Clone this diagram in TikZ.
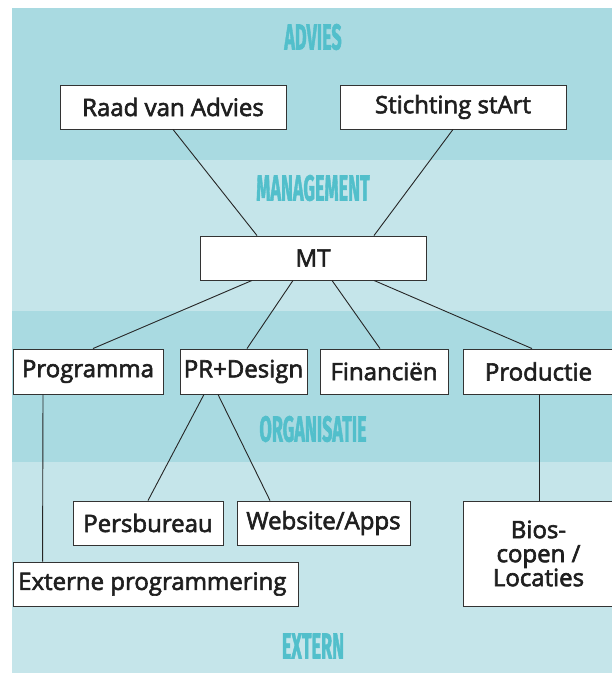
\documentclass[tikz,border=0pt]{standalone}
\usepackage{fontspec}
\setmainfont{Open Sans}
\newfontfamily\boxfont{Open Sans}[FakeBold=2.5]
\newfontfamily\headfont{Fira Sans}[FakeBold=2]
\usetikzlibrary{calc}
\definecolor{banddark}{HTML}{A9DAE1}
\definecolor{bandlight}{HTML}{C5E5EA}
\definecolor{bandtext}{HTML}{52BFCB}
\tikzset{basic box/.style={draw=black!80,fill=white,inner sep=0pt,line width=0.9pt}}
\tikzset{org box/.style={basic box,
                         align=center,
                         text=black!88,
                         font=\boxfont\fontsize{24}{24}\selectfont}}
\tikzset{band label/.style={text=bandtext,
                            inner sep=0pt,
                            xscale=0.5,
                            font=\headfont\bfseries\fontsize{36}{36}\selectfont}}
\tikzset{link/.style={draw=black!85,line width=0.9pt}}

\begin{document}
\begin{tikzpicture}[x=1pt,y=-1pt]

      \useasboundingbox (0,0) rectangle (612,673);

      % bands
      \foreach \t/\b/\c in {8/160/banddark,160/311/bandlight,311/462/banddark,462/673/bandlight}
      {
      \fill [\c] (12,\t) rectangle (612,\b);
      }

      \foreach \n/\y/\l in {advies/37/ADVIES,management/188/MANAGEMENT,organisatie/429/ORGANISATIE,extern/646/EXTERN}
      {
      \node [band label] (\n) at (313,\y) {\l};
      }

      % boxes
      \foreach \n/\x/\y/\w/\h/\l in
      {
      raad/173/107/226/44/Raad van Advies,
      stichting/453/107/226/44/Stichting stArt,
      mt/313/258/226/44/MT,
      prog/88/371.5/150/45/Programma,
      prd/243.5/371.5/127/45/PR+Design,
      fin/384/371.5/128/45/Financiën,
      prod/538.5/371.5/151/45/Productie,
      pers/148/523/150/44/Persbureau,
      web/323.5/523/173/44/{Website/Apps},
      ext/155.5/584/285/44/Externe programmering
      }
      {
      \node [org box,minimum width=\w pt,minimum height=\h pt] (\n) at (\x,\y) {\l};
      }
      \node [org box,minimum width=151pt,minimum height=105pt] (bios) at (538.5,553.5)
      {Bios-\\copen /\\Locaties};

      % links
      \path [link] (raad.south) -- ($(mt.north)+(-56,0)$);
      \path [link] (stichting.south) -- ($(mt.north)+(61,0)$);

      \path [link] ($(mt.south)+(-61,0)$) -- ($(prog.north)+(5,0)$);
      \path [link] ($(mt.south)+(-20,0)$) -- ($(prd.north)+(3.5,0)$);
      \path [link] ($(mt.south)+(19,0)$) -- ($(fin.north)+(-4,0)$);
      \path [link] ($(mt.south)+(61,0)$) -- ($(prod.north)+(-6.5,0)$);

      \path [link] ($(prd.south)+(-39.5,0)$) -- (pers.north);
      \path [link] ($(prd.south)+(-25.5,0)$) -- ($(web.north)+(-53.5,0)$);

      \path [link] ($(prog.south)+(-45,0)$) -- ($(ext.north west)+(30,0)$);
      \path [link] ($(prod.south)+(0.5,0)$) -- ($(bios.north)+(0.5,0)$);

    \end{tikzpicture}
\end{document}
